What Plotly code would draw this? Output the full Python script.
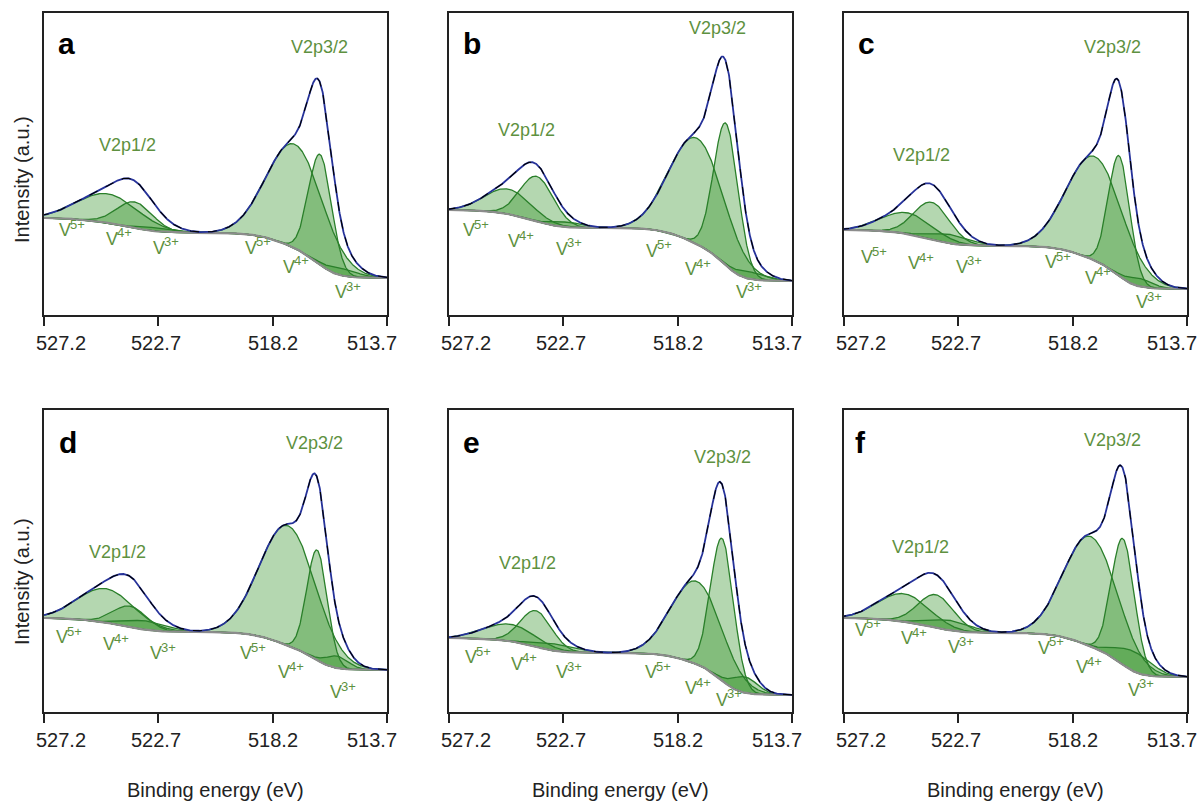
import numpy as np
import plotly.graph_objects as go

# ---------------- data ----------------
panel_names = ["a", "b", "c", "d", "e", "f"]
tick_vals = [527.2, 522.7, 518.2, 513.7]
tick_text = ["527.2", "522.7", "518.2", "513.7"]
state_charges = ["5+", "4+", "3+"]
peak_labels = ["V2p1/2", "V2p3/2"]

# fitted components: V5+, V4+, V3+ (2p1/2) then V5+, V4+, V3+ (2p3/2)
center_a = [524.68, 523.62, 522.63, 517.32, 516.33, 515.43]
height_a = [29, 26, 4, 104, 110, 7]
sigma_a = [1.2, 0.7, 0.7, 1.1, 0.45, 0.6]
bg_a = [97, 82, 37]          # Shirley background level: high BE end, between doublets, low BE end

center_b = [524.88, 523.74, 522.55, 517.44, 516.30, 515.27]
height_b = [25, 45, 5, 106, 142, 7]
sigma_b = [0.9, 0.65, 0.6, 1.07, 0.48, 0.6]
bg_b = [105, 87, 34]

center_c = [524.72, 523.74, 522.95, 517.32, 516.37, 515.55]
height_c = [21, 37, 9, 104, 120, 8]
sigma_c = [1.0, 0.7, 0.75, 1.1, 0.42, 0.5]
bg_c = [85, 69, 26]

center_d = [524.76, 523.81, 523.14, 517.59, 516.45, 515.66]
height_d = [34, 21, 9, 120, 110, 12]
sigma_d = [1.1, 0.65, 0.8, 1.1, 0.4, 0.45]
bg_d = [94, 80, 42]

center_e = [524.80, 523.77, 522.95, 517.44, 516.45, 515.55]
height_e = [17, 36, 7, 83, 142, 16]
sigma_e = [1.0, 0.62, 0.8, 1.0, 0.45, 0.5]
bg_e = [74, 59, 17]

center_f = [524.84, 523.58, 522.99, 517.48, 516.22, 515.78]
height_f = [28, 33, 10, 110, 126, 20]
sigma_f = [1.0, 0.7, 0.8, 1.05, 0.45, 0.7]
bg_f = [94, 79, 35]

centers = [center_a, center_b, center_c, center_d, center_e, center_f]
heights = [height_a, height_b, height_c, height_d, height_e, height_f]
sigmas = [sigma_a, sigma_b, sigma_c, sigma_d, sigma_e, sigma_f]
backgrounds = [bg_a, bg_b, bg_c, bg_d, bg_e, bg_f]

# ---------------- layout / style ----------------
W, H = 1201, 812
col_px = [(44, 387), (449, 792), (844, 1187)]
row_px = [(13, 315), (410, 712)]
Y_MAX = 302
tick_label_shift = [17, -2, 0, -15]   # edge tick labels sit inside the frame

# annotation positions in axis-domain fractions
label_pos = [
    dict(letter=(0.067, 0.90), p12=(0.242, 0.563), p32=(0.802, 0.887),
         s=[(0.079, 0.281), (0.216, 0.252), (0.353, 0.222), (0.621, 0.222), (0.732, 0.159), (0.883, 0.076)]),
    dict(letter=(0.067, 0.90), p12=(0.227, 0.613), p32=(0.784, 0.950),
         s=[(0.076, 0.281), (0.207, 0.245), (0.347, 0.219), (0.609, 0.212), (0.723, 0.152), (0.872, 0.076)]),
    dict(letter=(0.067, 0.90), p12=(0.227, 0.530), p32=(0.784, 0.887),
         s=[(0.085, 0.192), (0.222, 0.172), (0.362, 0.159), (0.621, 0.175), (0.738, 0.123), (0.886, 0.043)]),
    dict(letter=(0.070, 0.894), p12=(0.213, 0.530), p32=(0.790, 0.891),
         s=[(0.070, 0.248), (0.207, 0.225), (0.344, 0.195), (0.606, 0.195), (0.717, 0.132), (0.869, 0.066)]),
    dict(letter=(0.067, 0.894), p12=(0.230, 0.493), p32=(0.796, 0.844),
         s=[(0.082, 0.182), (0.216, 0.159), (0.347, 0.132), (0.606, 0.132), (0.723, 0.079), (0.813, 0.040)]),
    dict(letter=(0.047, 0.894), p12=(0.222, 0.546), p32=(0.784, 0.901),
         s=[(0.067, 0.272), (0.201, 0.245), (0.338, 0.215), (0.601, 0.212), (0.711, 0.149), (0.863, 0.073)]),
]

FONT = "Arial, Liberation Sans, sans-serif"
LABEL_GREEN = "#5e9140"
LINE_GREEN = "#2a7f2a"
FILL_GREEN = "rgba(40,140,30,0.35)"
BG_GRAY = "#8c8c8c"
NAVY = "#26329a"

E = np.linspace(513.7, 527.2, 1081)  # evaluation grid for the fitted model


def gauss(x, c, h, s):
    return h * np.exp(-((x - c) ** 2) / (2 * s * s))


def ann(**kw):
    base = dict(showarrow=False, xanchor="center", yanchor="middle", borderpad=0)
    base.update(kw)
    return base


fig = go.Figure()
annotations = []
layout_axes = {}

for i, name in enumerate(panel_names):
    r, c = divmod(i, 3)
    k = "" if i == 0 else str(i + 1)
    xa, ya = "x" + k, "y" + k
    comps = [gauss(E, centers[i][j], heights[i][j], sigmas[i][j]) for j in range(6)]
    a12 = comps[0] + comps[1] + comps[2]
    a32 = comps[3] + comps[4] + comps[5]
    left, mid, right = backgrounds[i]
    c12 = np.cumsum(a12) / np.sum(a12)
    c32 = np.cumsum(a32) / np.sum(a32)
    bg = right + (mid - right) * c32 + (left - mid) * c12
    env = bg + a12 + a32

    for comp in comps:
        top = bg + comp
        fig.add_trace(go.Scatter(
            x=np.concatenate([E, E[::-1]]), y=np.concatenate([top, bg[::-1]]),
            fill="toself", fillcolor=FILL_GREEN, line=dict(width=0),
            mode="lines", hoverinfo="skip", xaxis=xa, yaxis=ya))
    for comp in comps:
        fig.add_trace(go.Scatter(x=E, y=bg + comp, mode="lines",
                                 line=dict(color=LINE_GREEN, width=1.3),
                                 hoverinfo="skip", xaxis=xa, yaxis=ya))
    fig.add_trace(go.Scatter(x=E, y=bg, mode="lines", line=dict(color=BG_GRAY, width=2.2),
                             hoverinfo="skip", xaxis=xa, yaxis=ya))
    fig.add_trace(go.Scatter(x=E, y=env, mode="lines", line=dict(color=NAVY, width=1.8),
                             hoverinfo="skip", xaxis=xa, yaxis=ya))
    fig.add_trace(go.Scatter(x=E, y=env, mode="lines",
                             line=dict(color="black", width=1.1, dash="dash"),
                             hoverinfo="skip", xaxis=xa, yaxis=ya))

    x0, x1 = col_px[c]
    y0, y1 = row_px[r]
    layout_axes["xaxis" + k] = dict(
        domain=[x0 / W, x1 / W], anchor=ya, range=[527.2, 513.7], automargin=False,
        tickvals=tick_vals, showticklabels=False, ticks="outside", ticklen=9,
        tickwidth=1.5, tickcolor="#222", showline=True, linecolor="#222",
        linewidth=1.5, mirror=True, showgrid=False, zeroline=False)
    layout_axes["yaxis" + k] = dict(
        domain=[1 - y1 / H, 1 - y0 / H], anchor=xa, range=[0, Y_MAX], automargin=False,
        showticklabels=False, ticks="", showline=True, linecolor="#222",
        linewidth=1.5, mirror=True, showgrid=False, zeroline=False)

    xr, yr = xa + " domain", ya + " domain"
    # tick labels
    for tv, tt, sh in zip(tick_vals, tick_text, tick_label_shift):
        annotations.append(ann(x=tv, y=0, xref=xa, yref=yr, text=tt, xshift=sh, yshift=-28,
                               font=dict(family=FONT, size=20, color="#222")))

    lp = label_pos[i]
    annotations.append(ann(x=lp["letter"][0], y=lp["letter"][1], xref=xr, yref=yr,
                           text="<b>%s</b>" % name,
                           font=dict(family=FONT, size=30, color="black")))
    annotations.append(ann(x=lp["p12"][0], y=lp["p12"][1], xref=xr, yref=yr,
                           text=peak_labels[0],
                           font=dict(family=FONT, size=18, color=LABEL_GREEN)))
    annotations.append(ann(x=lp["p32"][0], y=lp["p32"][1], xref=xr, yref=yr,
                           text=peak_labels[1],
                           font=dict(family=FONT, size=18, color=LABEL_GREEN)))
    for j, (sx, sy) in enumerate(lp["s"]):
        annotations.append(ann(x=sx, y=sy, xref=xr, yref=yr, text="V",
                               xanchor="right", xshift=1,
                               font=dict(family=FONT, size=18, color=LABEL_GREEN)))
        annotations.append(ann(x=sx, y=sy, xref=xr, yref=yr, text=state_charges[j % 3],
                               xanchor="left", xshift=-2, yshift=6,
                               font=dict(family=FONT, size=13, color=LABEL_GREEN)))

# shared axis titles
for c in range(3):
    x0, x1 = col_px[c]
    annotations.append(ann(x=(x0 + x1) / 2 / W, y=1 - 790 / H, xref="paper", yref="paper",
                           text="Binding energy (eV)",
                           font=dict(family=FONT, size=20, color="#222")))
for yc in (180, 582):
    annotations.append(ann(x=22 / W, y=1 - yc / H, xref="paper", yref="paper",
                           text="Intensity (a.u.)", textangle=-90,
                           font=dict(family=FONT, size=20, color="#222")))

fig.update_layout(width=W, height=H, margin=dict(l=0, r=0, t=0, b=0),
                  paper_bgcolor="white", plot_bgcolor="white", showlegend=False,
                  annotations=annotations, **layout_axes)

fig.write_html("out.html")
